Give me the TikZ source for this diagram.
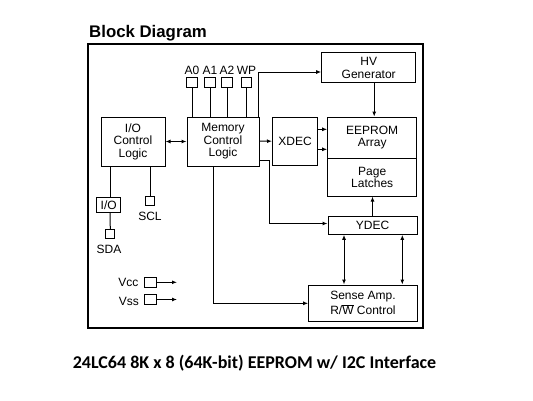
\documentclass[tikz,border=0pt]{standalone}
\usepackage{fontspec}
\setmainfont{Liberation Sans}
\newfontfamily\capfont{Carlito}
\usetikzlibrary{arrows.meta}

\begin{document}
\begin{tikzpicture}[x=1pt,y=-1pt,
		blk/.style={draw, line width=1pt, align=center, inner sep=0pt, font=\fontsize{12}{12.5}\selectfont},
		pin/.style={draw, line width=1pt, inner sep=0pt, minimum width=10.5pt, minimum height=10pt},
		lbl/.style={inner sep=0pt, font=\fontsize{12}{12}\selectfont},
		wire/.style={line width=1pt},
		arr/.style={wire, -{Latex[length=5pt,width=4pt]}},
		darr/.style={wire, {Latex[length=5pt,width=4pt]}-{Latex[length=5pt,width=4pt]}}]
		\useasboundingbox (0,0) rectangle (533,400);
		\node[anchor=base west, inner sep=0pt, font=\bfseries\fontsize{16.8}{16.8}\selectfont] (title) at (89,37.3) {Block Diagram};
		\draw[line width=1.8pt] (88,44) rectangle (423,328);

		\node[blk, minimum width=64pt, minimum height=49pt] (iocl) at (133,141.5) {I/O\\Control\\Logic};
		\node[blk, minimum width=72pt, minimum height=49pt] (mcl) at (223,141.5) {Memory\\Control\\Logic};
		\node[blk, minimum width=45pt, minimum height=48pt] (xdec) at (295,141) {XDEC};
		\node[blk, minimum width=89pt, minimum height=41.3pt] (array) at (372.2,137.7) {EEPROM\\Array};
		\node[blk, minimum width=89pt, minimum height=37.7pt] (latches) at (372.2,177.2) {Page\\Latches};
		\node[blk, minimum width=94pt, minimum height=30pt] (hv) at (368.7,67.7) {HV\\Generator};
		\node[blk, minimum width=89pt, minimum height=18pt] (ydec) at (372.5,225.3) {YDEC};
		\node[blk, minimum width=108.6pt, minimum height=36pt, font=\fontsize{12}{14.5}\selectfont] (sense) at (363,303) {Sense Amp.\\R/$\overline{\mbox{W}}$ Control};

		\node[pin] (pA0) at (192,82) {};
		\node[pin] (pA1) at (210,82) {};
		\node[pin] (pA2) at (227,82) {};
		\node[pin] (pWP) at (246.5,82) {};
		\node[lbl, anchor=base] at (192,74.3) {A0};
		\node[lbl, anchor=base] at (210,74.3) {A1};
		\node[lbl, anchor=base] at (227,74.3) {A2};
		\node[lbl, anchor=base] at (246.5,74.3) {WP};

		\node[blk, minimum width=24pt, minimum height=15pt] (ioio) at (108.7,205.2) {I/O};
		\node[pin, minimum width=9.3pt, minimum height=9pt] (sda) at (110.3,233.8) {};
		\node[pin, minimum width=9.3pt, minimum height=9pt] (scl) at (150.3,200.5) {};
		\node[lbl, anchor=base] at (109,253.3) {SDA};
		\node[lbl, anchor=base] at (150,220) {SCL};

		\node[pin, minimum width=11.7pt] (vcc) at (150.2,282.3) {};
		\node[pin, minimum width=11.7pt] (vss) at (150.2,299.5) {};
		\node[lbl, anchor=base east] at (138.5,286.7) {Vcc};
		\node[lbl, anchor=base east] at (139,305) {Vss};
		\coordinate (vccend) at (177,282.3);
		\coordinate (vssend) at (177,299.5);

		\coordinate (wpturn) at (258.3,72);
		\coordinate (yturn) at (269.3,223.5);
		\coordinate (sturn) at (213.3,303.3);

		\draw[darr] (iocl) -- (mcl);
		\draw[arr] (mcl) -- (xdec);
		\draw[arr] ([yshift=11.7pt]xdec.east) -- ([yshift=11.7pt]xdec.east -| array.west);
		\draw[arr] ([yshift=-8.3pt]xdec.east) -- ([yshift=-8.3pt]xdec.east -| array.west);
		\draw[arr] ([xshift=5.5pt]hv.south) -- ([xshift=5.5pt]hv.south |- array.north);
		\draw[arr] (ydec.north) -- (ydec.north |- latches.south);
		\draw[arr] (wpturn |- mcl.north) -- (wpturn) -- (wpturn -| hv.west);
		\draw[arr] ([yshift=-19pt]mcl.east) -| (yturn) -- (yturn -| ydec.west);
		\draw[arr] (sturn |- mcl.south) -- (sturn) -- (sturn -| sense.west);
		\draw[darr] ([xshift=-28.5pt]ydec.south) -- ([xshift=-28.5pt]ydec.south |- sense.north);
		\draw[darr] ([xshift=29.8pt]ydec.south) -- ([xshift=29.8pt]ydec.south |- sense.north);

		\draw[wire] (pA0.south) -- (pA0.south |- mcl.north);
		\draw[wire] (pA1.south) -- (pA1.south |- mcl.north);
		\draw[wire] (pA2.south) -- (pA2.south |- mcl.north);
		\draw[wire] (pWP.south) -- (pWP.south |- mcl.north);

		\draw[wire] ([xshift=1.3pt]ioio.north |- iocl.south) -- ([xshift=1.3pt]ioio.north);
		\draw[wire] ([xshift=1.3pt]ioio.south) -- (sda.north);
		\draw[wire] (scl.north |- iocl.south) -- (scl.north);
		\draw[arr] (vcc.east) -- (vccend);
		\draw[arr] (vss.east) -- (vssend);

		\node[anchor=base, inner sep=0pt, font=\capfont\bfseries\fontsize{18}{18}\selectfont] (caption) at (254.5,368.3) {24LC64 8K x 8 (64K-bit) EEPROM w/ I2C Interface};
	\end{tikzpicture}
\end{document}
